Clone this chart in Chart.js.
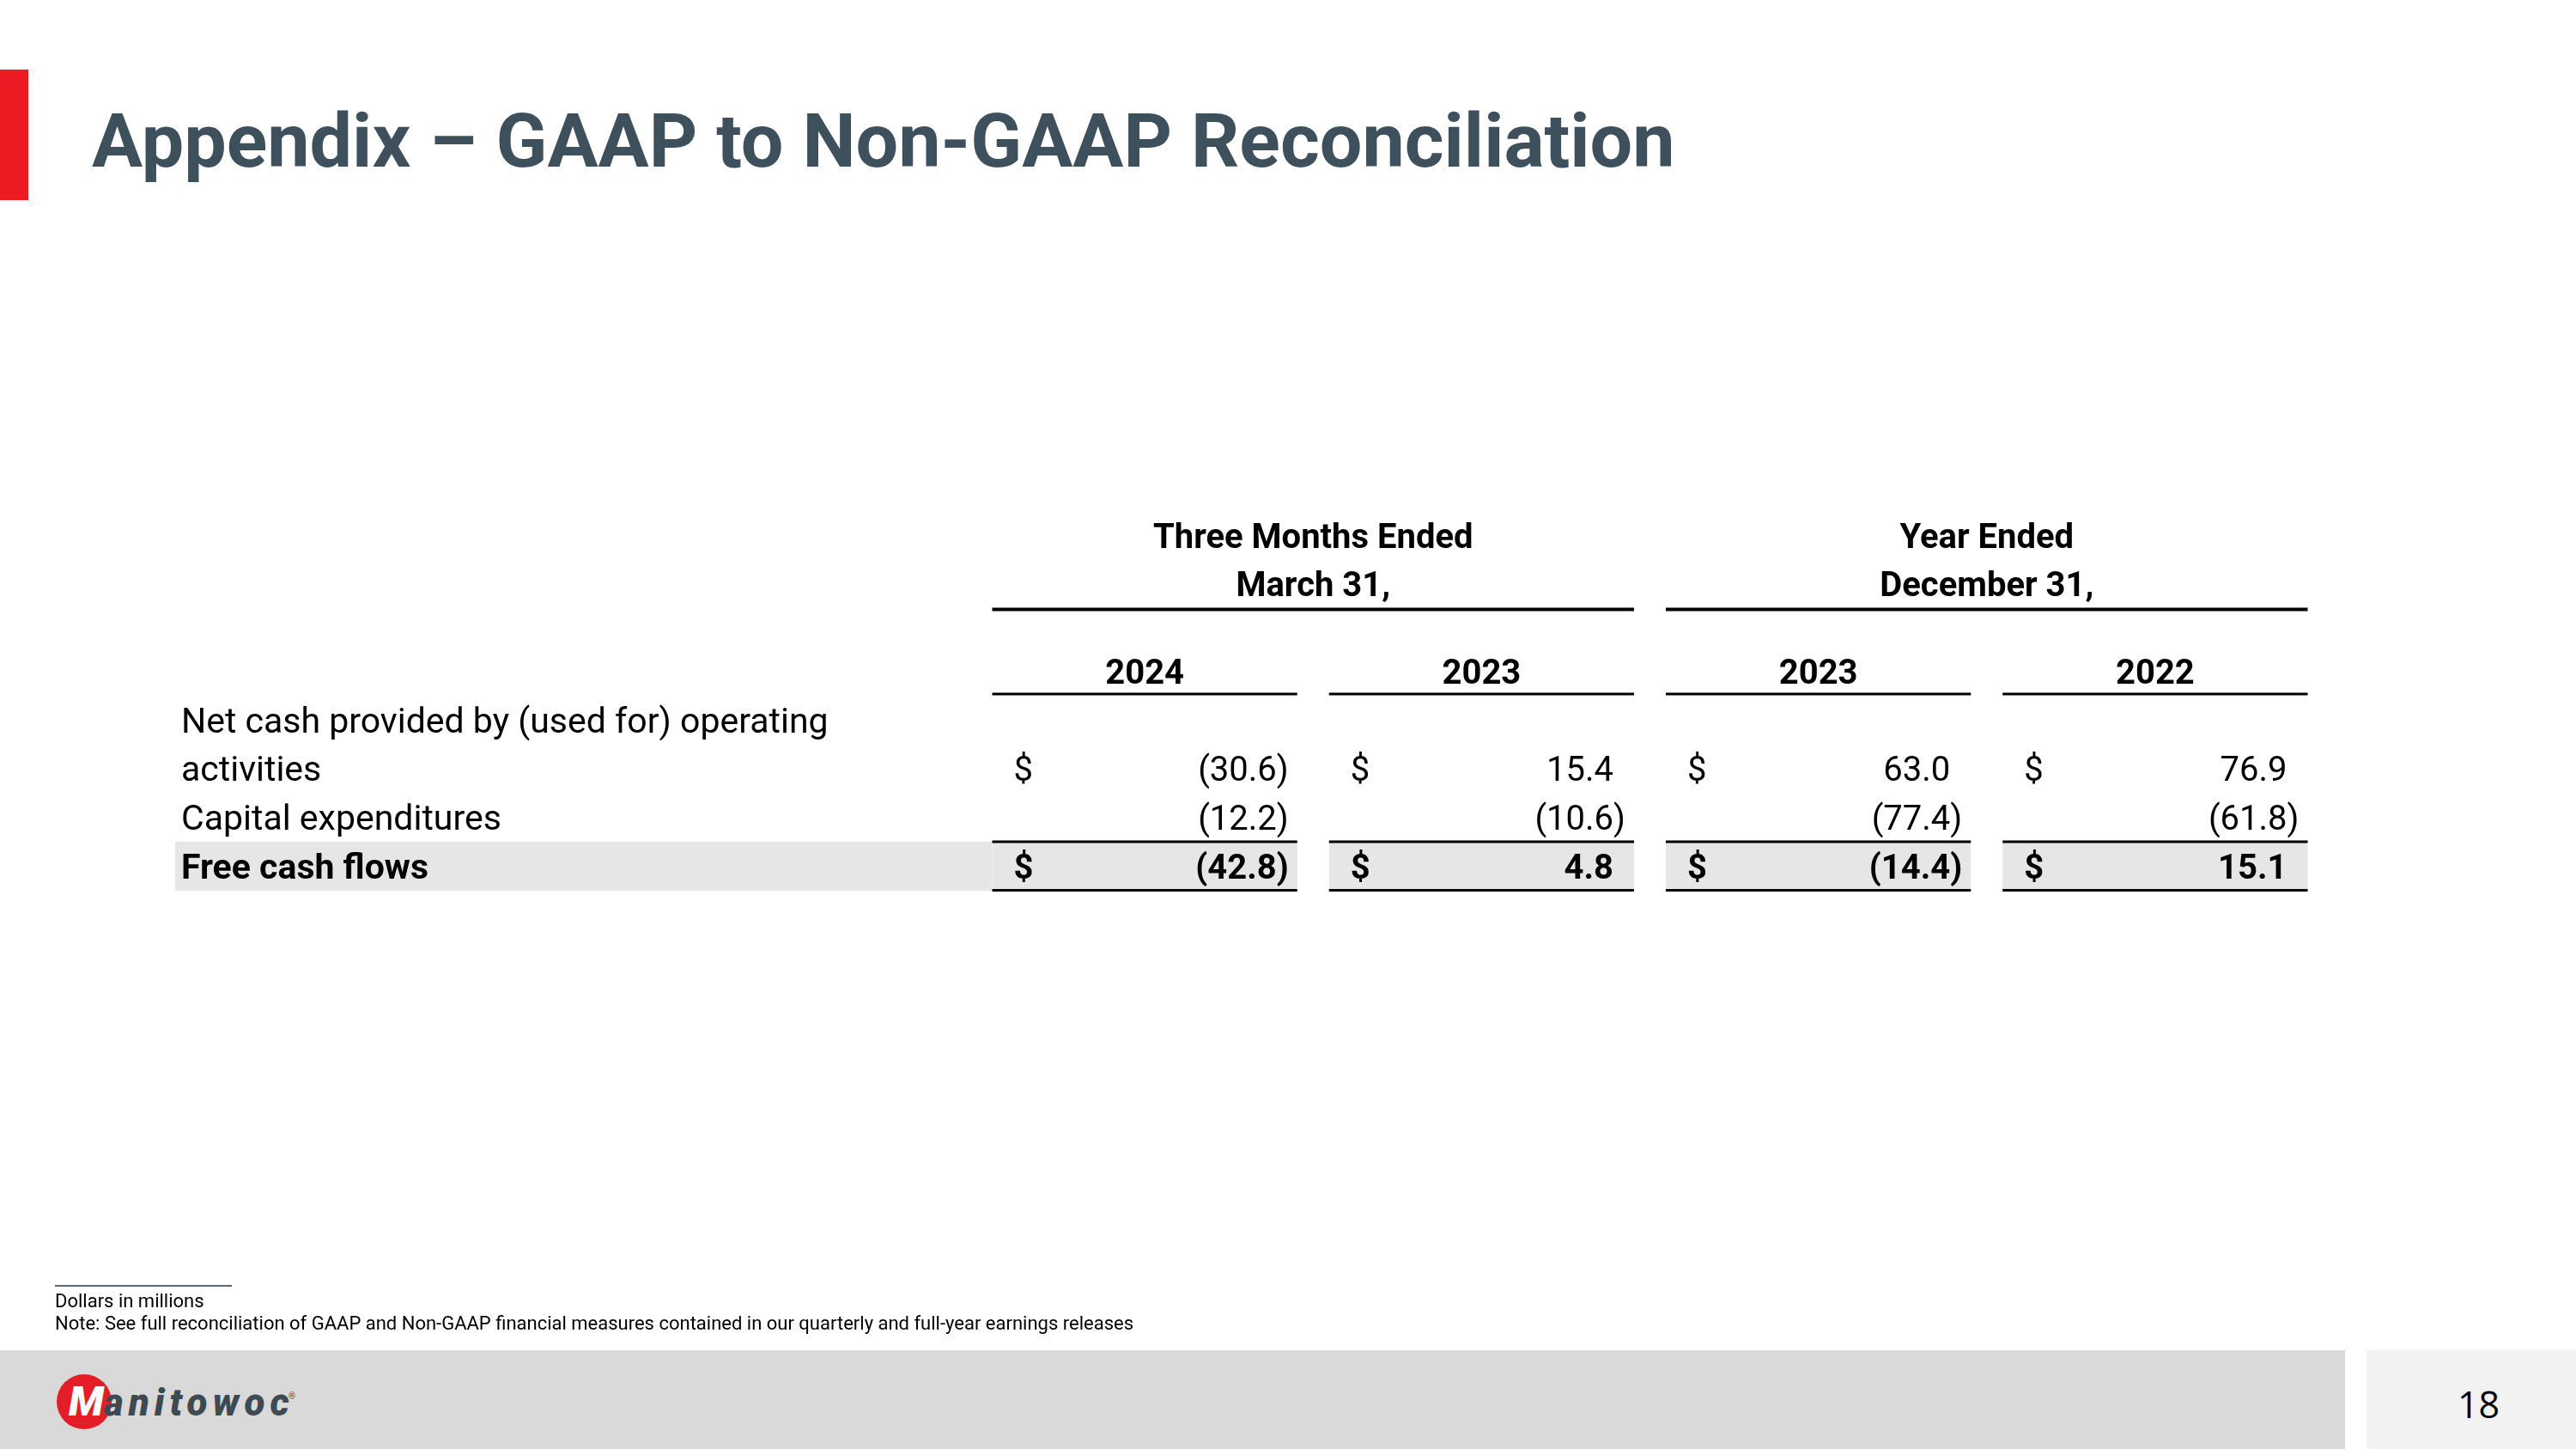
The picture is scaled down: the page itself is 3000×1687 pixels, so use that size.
<!DOCTYPE html>
<html>
<head>
<meta charset="utf-8">
<title>Appendix – GAAP to Non-GAAP Reconciliation</title>
<script src="https://cdn.jsdelivr.net/npm/chart.js@4.4.1/dist/chart.umd.min.js"></script>
<style>
    html, body { margin: 0; padding: 0; background: #ffffff; }
    body { width: 3000px; height: 1687px; position: relative; overflow: hidden; font-family: Roboto, "Noto Sans", sans-serif; }
    #table-chart { position: absolute; left: 0; top: 0; }
    .abs { position: absolute; white-space: nowrap; line-height: 1; }
    #red-bar { left: 0; top: 81px; width: 33px; height: 152px; background: #ed1c24; }
    #title { left: 107px; top: 120px; font-size: 88px; font-weight: 700; color: #3e505c; }
    #note-rule { left: 64px; top: 1496px; width: 206px; height: 2px; background: #5b6770; }
    .note { left: 64px; font-size: 22px; color: #000; }
    #footer { left: 0; top: 1572px; width: 2731px; height: 115px; background: #d9d9d9; }
    #page-box { left: 2756px; top: 1572px; width: 244px; height: 115px; background: #f2f2f2; }
    #page-num { left: 2862px; top: 1613px; font-size: 43px; font-family: "Open Sans", Roboto, sans-serif; color: #000; }
    #logo-circle { left: 66px; top: 1600px; width: 64px; height: 64px; border-radius: 50%; background: #e31e26; }
    #logo-m { left: 80px; top: 1608px; font-size: 48px; font-weight: 900; font-style: italic; color: #ffffff; }
    #logo-text { left: 121px; top: 1611px; font-size: 44px; font-weight: 900; font-style: italic; color: #3d4a52; letter-spacing: 6px; }
    #logo-r { left: 336px; top: 1621px; font-size: 10px; color: #3d4a52; }
</style>
</head>
<body>
<canvas id="table-chart" width="3000" height="1687"></canvas>

<div id="red-bar" class="abs"></div>
<div id="title" class="abs">Appendix – GAAP to Non-GAAP Reconciliation</div>

<div id="note-rule" class="abs"></div>
<div class="abs note" style="top: 1504px;">Dollars in millions</div>
<div class="abs note" style="top: 1530px;">Note: See full reconciliation of GAAP and Non-GAAP financial measures contained in our quarterly and full-year earnings releases</div>

<div id="footer" class="abs"></div>
<div id="page-box" class="abs"></div>
<div id="page-num" class="abs">18</div>
<div id="logo-circle" class="abs"></div>
<div id="logo-m" class="abs">M</div>
<div id="logo-text" class="abs">anitowoc</div>
<div id="logo-r" class="abs">®</div>

<script>
// table data
const periodGroups = [['Three Months Ended', 'March 31,'], ['Year Ended', 'December 31,']];
const years = ['2024', '2023', '2023', '2022'];
const colKeys = ['Q1 2024', 'Q1 2023', 'FY 2023', 'FY 2022'];
const rowKeys = ['operating', 'capex', 'freeCash'];
const rowLabels = [
    ['Net cash provided by (used for) operating', 'activities'],
    ['Capital expenditures'],
    ['Free cash flows']
];
const operatingCash = [-30.6, 15.4, 63.0, 76.9];
const capitalExpenditures = [-12.2, -10.6, -77.4, -61.8];
const freeCashFlows = [-42.8, 4.8, -14.4, 15.1];
const rowValues = [operatingCash, capitalExpenditures, freeCashFlows];
const dollarRows = [true, false, true];
const totalRow = 2;

const FONT = 'Roboto, "Noto Sans", sans-serif';

/**
 * formats a value the way the statement does: negatives in brackets
 */
function formatValue(v) {
    return v < 0 ? '(' + Math.abs(v).toFixed(1) + ')' : v.toFixed(1);
}

const tablePlugin = {
    id: 'reconciliationTable',

    afterDatasetsDraw: function (chart) {
        const ctx = chart.ctx;
        const x = chart.scales.x;
        const y = chart.scales.y;

        const band = x.getPixelForValue(1) - x.getPixelForValue(0);
        const colHalf = (band - 37) / 2;
        const rowHalf = (y.getPixelForValue(1) - y.getPixelForValue(0)) / 2;
        const colLeft = c => x.getPixelForValue(c) - colHalf;
        const colRight = c => x.getPixelForValue(c) + colHalf;
        const labelX = 211;

        ctx.save();

        // shaded total row
        const totalTop = y.getPixelForValue(totalRow) - rowHalf;
        ctx.fillStyle = '#e6e6e6';
        ctx.fillRect(204, totalTop, colLeft(0) - 204, rowHalf * 2);
        colKeys.forEach((k, c) => ctx.fillRect(colLeft(c), totalTop, colHalf * 2, rowHalf * 2));

        // rules
        ctx.fillStyle = '#000000';
        const firstCenter = y.getPixelForValue(0);
        colKeys.forEach((k, c) => {
            ctx.fillRect(colLeft(c), firstCenter - 88, colHalf * 2, 3);
            ctx.fillRect(colLeft(c), totalTop - 1.5, colHalf * 2, 3);
            ctx.fillRect(colLeft(c), totalTop + rowHalf * 2 - 2, colHalf * 2, 3);
        });
        periodGroups.forEach((g, i) => {
            ctx.fillRect(colLeft(i * 2), firstCenter - 187, colRight(i * 2 + 1) - colLeft(i * 2), 4);
        });

        // headers
        ctx.textBaseline = 'alphabetic';
        ctx.textAlign = 'center';
        ctx.font = '700 40px ' + FONT;
        periodGroups.forEach((g, i) => {
            const cx = (x.getPixelForValue(i * 2) + x.getPixelForValue(i * 2 + 1)) / 2;
            g.forEach((line, j) => ctx.fillText(line, cx, firstCenter - 257 + j * 56));
        });
        years.forEach((yr, c) => ctx.fillText(yr, x.getPixelForValue(c), firstCenter - 99));

        // row labels
        ctx.textAlign = 'left';
        rowLabels.forEach((lines, r) => {
            ctx.font = (r === totalRow ? '700 ' : '400 ') + '41px ' + FONT;
            const base = y.getPixelForValue(r) + 14;
            lines.forEach((line, j) => ctx.fillText(line, labelX, base - (lines.length - 1 - j) * 56));
        });

        // values, placed at the dataset's points
        rowKeys.forEach((key, r) => {
            const meta = chart.getDatasetMeta(r);
            ctx.font = (r === totalRow ? '700 ' : '400 ') + '40px ' + FONT;
            const bracket = ctx.measureText(')').width;
            meta.data.forEach((pt, c) => {
                const v = rowValues[r][c];
                const base = pt.y + 14;
                const right = pt.x + colHalf - 10;
                if (dollarRows[r]) {
                    ctx.textAlign = 'left';
                    ctx.fillText('$', pt.x - colHalf + 25, base);
                }
                ctx.textAlign = 'right';
                ctx.fillText(formatValue(v), v < 0 ? right : right - bracket, base);
            });
        });

        ctx.restore();
    }
};

new Chart(document.querySelector('#table-chart').getContext('2d'), {
    type: 'scatter',
    data: {
        datasets: rowKeys.map((key, r) => ({
            label: key,
            data: rowValues[r].map((v, c) => ({ x: colKeys[c], y: key, v: v })),
            pointRadius: 0,
            pointHoverRadius: 0
        }))
    },
    options: {
        responsive: false,
        animation: false,
        events: [],
        layout: {
            padding: { left: 1137, right: 294, top: 866, bottom: 650 }
        },
        scales: {
            x: { type: 'category', labels: colKeys, offset: true, display: false },
            y: { type: 'category', labels: rowKeys, offset: true, display: false }
        },
        plugins: {
            legend: { display: false },
            tooltip: { enabled: false }
        }
    },
    plugins: [tablePlugin]
});
</script>
</body>
</html>
